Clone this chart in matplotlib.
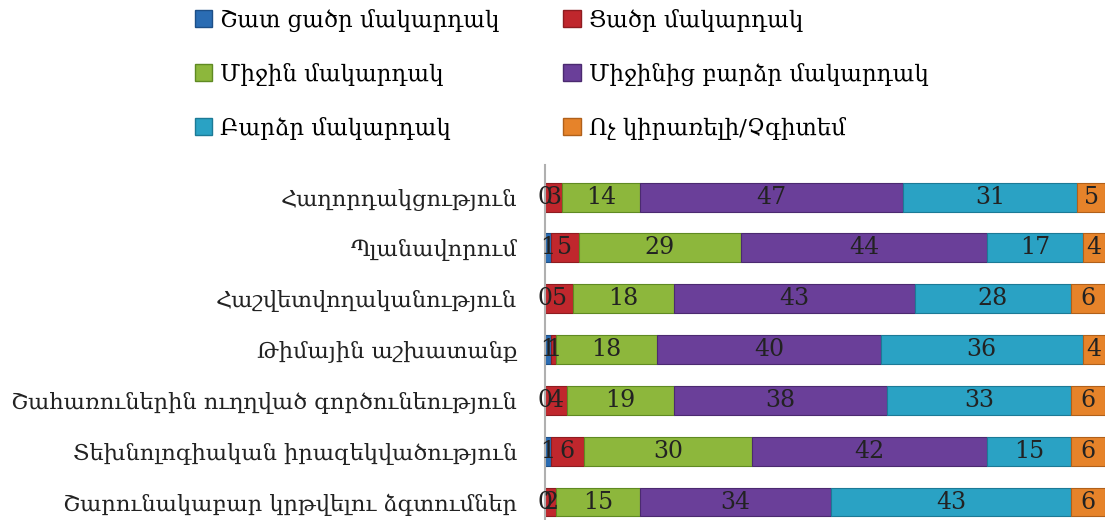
import matplotlib.pyplot as plt
from matplotlib.patches import Patch

plt.rcParams['font.family'] = ['DejaVu Serif']

# categories top -> bottom
categories = [
    'Հաղորդակցություն',
    'Պլանավորում',
    'Հաշվետվողականություն',
    'Թիմային աշխատանք',
    'Շահառուներին ուղղված գործունեություն',
    'Տեխնոլոգիական իրազեկվածություն',
    'Շարունակաբար կրթվելու ձգտումներ',
]
series_names = [
    'Շատ ցածր մակարդակ',
    'Ցածր մակարդակ',
    'Միջին մակարդակ',
    'Միջինից բարձր մակարդակ',
    'Բարձր մակարդակ',
    'Ոչ կիրառելի/Չգիտեմ',
]
very_low = [0, 1, 0, 1, 0, 1, 0]
low = [3, 5, 5, 1, 4, 6, 2]
medium = [14, 29, 18, 18, 19, 30, 15]
above_medium = [47, 44, 43, 40, 38, 42, 34]
high = [31, 17, 28, 36, 33, 15, 43]
na = [5, 4, 6, 4, 6, 6, 6]

colors = ['#2a6cb3', '#c0272d', '#8db73c', '#6a3f99', '#2aa2c4', '#e6832a']
edges = ['#1d4f87', '#8e1c20', '#5f8a22', '#4b2a70', '#1c7a96', '#b0601a']

fig = plt.figure(figsize=(11.09, 5.2), dpi=100)
ax = fig.add_axes([545 / 1109, 0, 560 / 1109, 355 / 520])

ypos = list(range(len(categories)))
left = [0] * len(categories)
for vals, col, ec in zip([very_low, low, medium, above_medium, high, na], colors, edges):
    bars = ax.barh(ypos, vals, left=left, height=0.57, color=col,
                   edgecolor=ec, linewidth=0.8)
    for b, v in zip(bars, vals):
        ax.text(b.get_x() + b.get_width() / 2, b.get_y() + b.get_height() / 2,
                str(v), ha='center', va='center', fontsize=17, color='#222222')
    left = [l + v for l, v in zip(left, vals)]

ax.set_xlim(0, 100)
ax.set_ylim(6.354, -0.63)
ax.set_yticks(ypos)
ax.set_yticklabels(categories, fontsize=16.2, color='#222222')
ax.tick_params(axis='y', length=0, pad=20)
ax.set_xticks([])
for s in ['top', 'right', 'bottom']:
    ax.spines[s].set_visible(False)
ax.spines['left'].set_color('#b0b0b0')
ax.spines['left'].set_linewidth(1.5)

handles = [Patch(facecolor=c, edgecolor=e, label=n)
           for c, e, n in zip(colors, edges, series_names)]
order = [0, 2, 4, 1, 3, 5]
fig.legend([handles[i] for i in order], [series_names[i] for i in order],
           ncol=2, loc='upper left', bbox_to_anchor=(174 / 1109, 1.023),
           frameon=False, fontsize=16.5, handlelength=0.75, handleheight=0.75,
           handletextpad=0.35, labelspacing=1.35, columnspacing=2.8)

fig.savefig('out.png', dpi=100)
